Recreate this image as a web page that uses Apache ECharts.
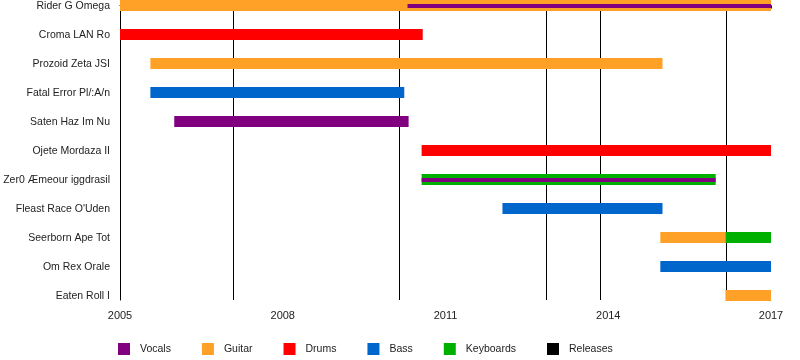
<!DOCTYPE html>
<html>
<head>
<meta charset="utf-8">
<script src="https://cdn.jsdelivr.net/npm/echarts@6/dist/echarts.min.js"></script>
<style>html,body{margin:0;padding:0;background:#fff}#c{width:800px;height:360px}</style>
</head>
<body>
<div id="c"></div>
<script>
const members = ['Rider G Omega','Croma LAN Ro','Prozoid Zeta JSI','Fatal Error Pl/:A/n','Saten Haz Im Nu','Ojete Mordaza II','Zer0 Æmeour iggdrasil','Fleast Race O\'Uden','Seerborn Ape Tot','Om Rex Orale','Eaten Roll I'];
// [memberIndex, start, end]
const vocals = [[0, 2010.30, 2017], [4, 2006.0, 2010.32], [6, 2010.56, 2015.98]];
const guitar = [[0, 2005, 2017], [2, 2005.56, 2015.0], [8, 2014.96, 2016.16], [10, 2016.16, 2017]];
const drums = [[1, 2005, 2010.58], [5, 2010.56, 2017]];
const bass = [[3, 2005.56, 2010.24], [7, 2012.05, 2015.0], [9, 2014.96, 2017]];
const keyboards = [[6, 2010.56, 2015.98], [8, 2016.16, 2017]];
const releases = [2007.08, 2010.15, 2012.85, 2013.84, 2016.17];
const yearLabels = [2005, 2008, 2011, 2014, 2017];

const colors = {Vocals:'#800080', Guitar:'#FFA126', Drums:'#FF0000', Bass:'#0066CC', Keyboards:'#00B000', Releases:'#000000'};
const others = [].concat(guitar, drums, bass, keyboards);
function overlapped(r){ return others.some(o => o[0]===r[0] && o[1] <= r[1]+0.01 && o[2] >= r[2]-0.01); }

function barSeries(name, data, z){
  return {
    type:'custom', name, z, data, itemStyle:{color:colors[name]},
    encode:{x:[1,2], y:0},
    renderItem(params, api){
      const row = api.value(0);
      const s = api.coord([api.value(1), row]);
      const e = api.coord([api.value(2), row]);
      const thin = name==='Vocals' && overlapped(data[params.dataIndex]);
      const h = thin ? 4 : 11;
      const y = thin ? s[1]-1.5 : s[1]-5.5;
      return {type:'rect', shape:{x:s[0], y:y, width:e[0]-s[0], height:h}, style:{fill:colors[name]}};
    }
  };
}

const chart = echarts.init(document.getElementById('c'), null, {renderer:'canvas'});
const font = 'Liberation Sans, Arial, sans-serif';
chart.setOption({
  animation:false,
  textStyle:{fontFamily:font},
  grid:{left:120, right:29, top:0, bottom:60, containLabel:false},
  xAxis:{type:'value', min:2005, max:2017, interval:1,
    axisLine:{lineStyle:{color:'#000', width:1}},
    axisTick:{length:3, lineStyle:{color:'#000'}},
    splitLine:{show:false},
    axisLabel:{margin:10, fontSize:11, color:'#222', fontFamily:font,
      formatter:v => yearLabels.indexOf(v) >= 0 ? String(v) : ''}},
  yAxis:{type:'value', inverse:true, min:-5.5/29, max:-5.5/29 + 300/29,
    axisLine:{show:true, lineStyle:{color:'#000', width:1}},
    axisTick:{show:false}, axisLabel:{show:false}, splitLine:{show:false}},
  legend:{top:338, left:113, itemWidth:12, itemHeight:12, itemGap:31, icon:'rect',
    data:['Vocals','Guitar','Drums','Bass','Keyboards','Releases'],
    textStyle:{fontSize:10.5, color:'#222', fontFamily:font, padding:[0,0,0,5]}},
  series:[
    {type:'custom', name:'Releases', z:1, data:releases, itemStyle:{color:'#000'},
      encode:{x:0},
      renderItem(params, api){
        const p = api.coord([api.value(0), 0]);
        const cs = params.coordSys;
        const x = Math.round(p[0]) + 0.5;
        return {type:'line', shape:{x1:x, y1:cs.y, x2:x, y2:cs.y+cs.height}, style:{stroke:'#000', lineWidth:1}};
      }},
    barSeries('Guitar', guitar, 2),
    barSeries('Drums', drums, 2),
    barSeries('Bass', bass, 2),
    barSeries('Keyboards', keyboards, 2),
    barSeries('Vocals', vocals, 3),
    {type:'custom', name:'labels', z:4, silent:true, data:members.map((m,i)=>[i]),
      encode:{y:0},
      renderItem(params, api){
        const p = api.coord([2005, api.value(0)]);
        return {type:'text', x:params.coordSys.x - 10, y:p[1] + 1,
          style:{text:members[params.dataIndex], align:'right', verticalAlign:'middle', fontSize:10.5, fill:'#222', fontFamily:font}};
      }}
  ]
});
</script>
</body>
</html>
